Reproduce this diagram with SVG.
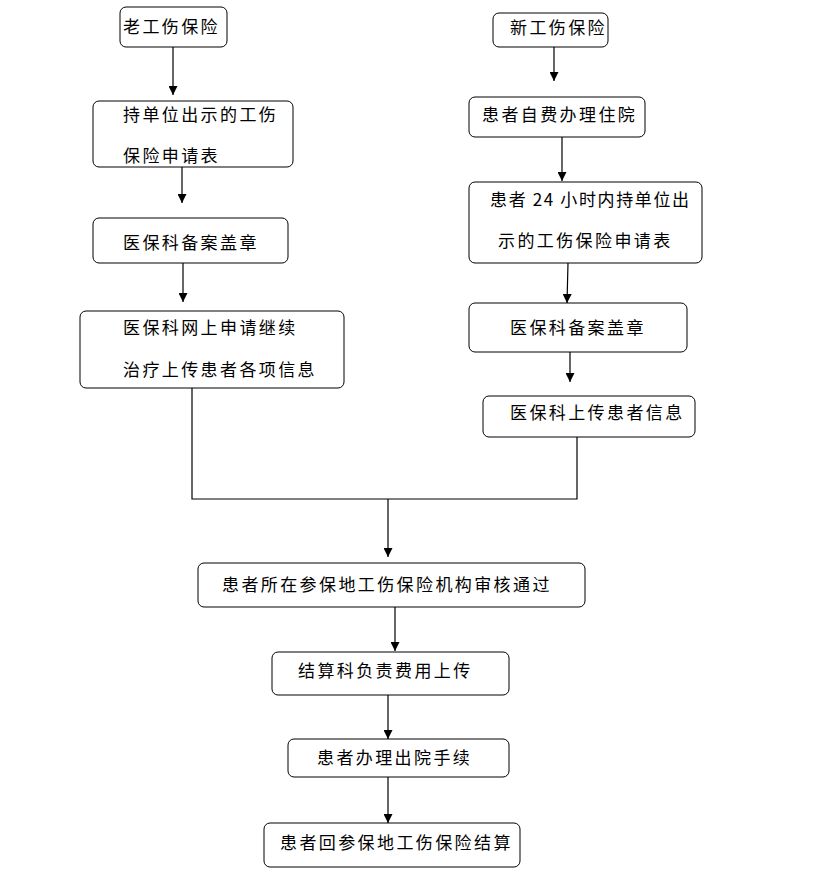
<svg xmlns="http://www.w3.org/2000/svg" width="816" height="873" viewBox="0 0 816 873">
<defs>
<style>
.box{fill:#fff;stroke:#000;stroke-width:1}
.t{font-family:"Noto Sans CJK SC","Noto Sans",sans-serif;font-size:17px;letter-spacing:2.4px;fill:#000}
.c{fill:none;stroke:#000;stroke-width:1.2}
</style>
<marker id="ah" viewBox="0 0 10 10" refX="10" refY="5" markerWidth="10" markerHeight="9" markerUnits="userSpaceOnUse" orient="auto">
<path d="M0,0 L10,5 L0,10 z" fill="#000"/>
</marker>
</defs>
<rect width="816" height="873" fill="#fff"/>
<g id="connectors">
<line class="c" x1="173" y1="47" x2="173" y2="95" marker-end="url(#ah)"/>
<line class="c" x1="182" y1="167" x2="182" y2="203" marker-end="url(#ah)"/>
<line class="c" x1="183" y1="263" x2="183" y2="302" marker-end="url(#ah)"/>
<line class="c" x1="554" y1="47" x2="554" y2="81" marker-end="url(#ah)"/>
<line class="c" x1="562" y1="137" x2="562" y2="181" marker-end="url(#ah)"/>
<line class="c" x1="568" y1="263" x2="567" y2="303" marker-end="url(#ah)"/>
<line class="c" x1="570" y1="352" x2="570" y2="382" marker-end="url(#ah)"/>
<polyline class="c" points="192,388 192,499 577,499 577,437"/>
<line class="c" x1="388" y1="499" x2="388" y2="557" marker-end="url(#ah)"/>
<line class="c" x1="395" y1="607" x2="395" y2="651" marker-end="url(#ah)"/>
<line class="c" x1="388" y1="695" x2="388" y2="739" marker-end="url(#ah)"/>
<line class="c" x1="388" y1="777" x2="388" y2="823" marker-end="url(#ah)"/>
</g>
<g id="n1"><rect class="box" x="120" y="7" width="107" height="40" rx="6"/><text class="t" x="123" y="33">老工伤保险</text></g>
<g id="n2"><rect class="box" x="93" y="101" width="200" height="66" rx="6"/><text class="t" x="123" y="121">持单位出示的工伤</text><text class="t" x="123" y="162">保险申请表</text></g>
<g id="n3"><rect class="box" x="93" y="218" width="195" height="45" rx="6"/><text class="t" x="123" y="249">医保科备案盖章</text></g>
<g id="n4"><rect class="box" x="80" y="311" width="264" height="77" rx="6"/><text class="t" x="123" y="334">医保科网上申请继续</text><text class="t" x="123" y="376">治疗上传患者各项信息</text></g>
<g id="m1"><rect class="box" x="493" y="13" width="115" height="34" rx="6"/><text class="t" x="510" y="34">新工伤保险</text></g>
<g id="m2"><rect class="box" x="469" y="97" width="176" height="40" rx="6"/><text class="t" x="482" y="121">患者自费办理住院</text></g>
<g id="m3"><rect class="box" x="469" y="182" width="233" height="81" rx="6"/><text class="t" x="490" y="206" style="letter-spacing:0" textLength="199" lengthAdjust="spacing">患者 24 小时内持单位出</text><text class="t" x="498" y="247">示的工伤保险申请表</text></g>
<g id="m4"><rect class="box" x="469" y="303" width="218" height="49" rx="6"/><text class="t" x="510" y="334">医保科备案盖章</text></g>
<g id="m5"><rect class="box" x="483" y="396" width="212" height="41" rx="6"/><text class="t" x="510" y="419">医保科上传患者信息</text></g>
<g id="p1"><rect class="box" x="198" y="563" width="387" height="44" rx="6"/><text class="t" x="222" y="591">患者所在参保地工伤保险机构审核通过</text></g>
<g id="p2"><rect class="box" x="272" y="652" width="237" height="43" rx="6"/><text class="t" x="298" y="677">结算科负责费用上传</text></g>
<g id="p3"><rect class="box" x="288" y="739" width="221" height="38" rx="6"/><text class="t" x="317" y="764">患者办理出院手续</text></g>
<g id="p4"><rect class="box" x="264" y="823" width="256" height="44" rx="6"/><text class="t" x="280" y="849">患者回参保地工伤保险结算</text></g>
</svg>
